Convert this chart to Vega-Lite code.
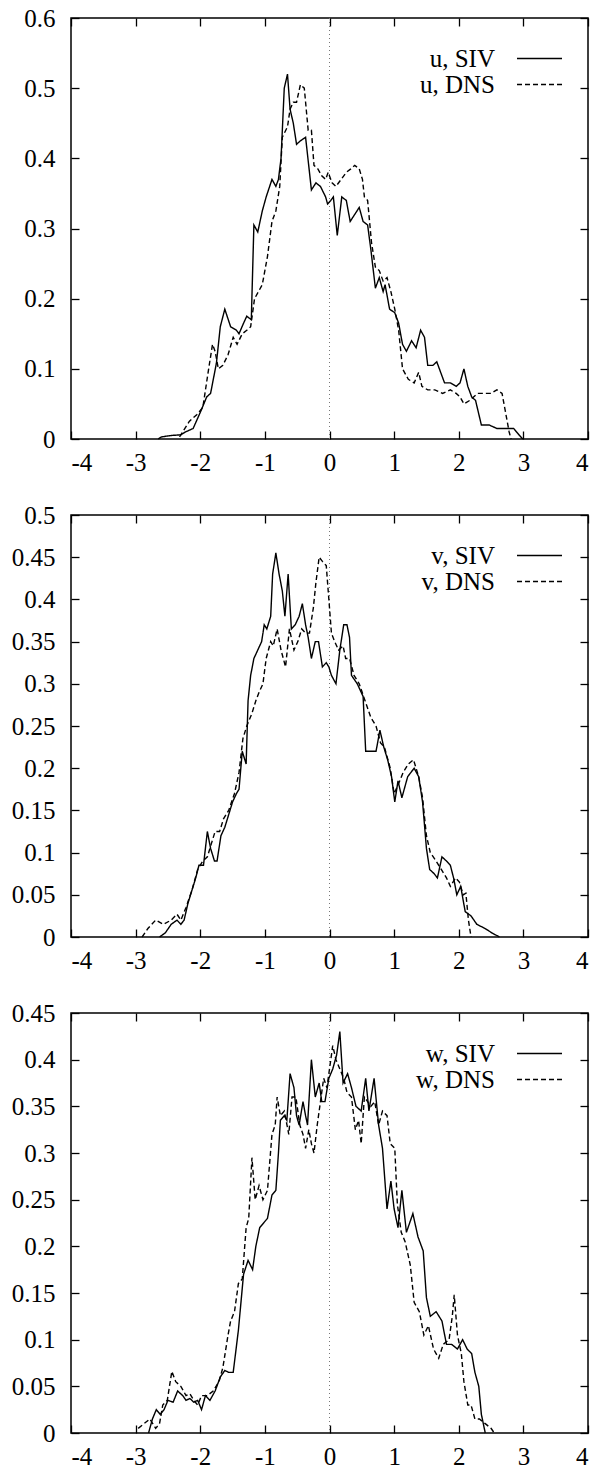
{
"$schema": "https://vega.github.io/schema/vega-lite/v6.json",
"background": "white",
"padding": {"left": 10, "top": 5, "right": 5, "bottom": 0},
"config": {
  "font": "Liberation Serif",
  "view": {"stroke": "black", "strokeWidth": 1.5},
  "axis": {"labelFont": "Liberation Serif", "labelFontSize": 25, "labelColor": "black", "domain": false, "grid": false, "ticks": true, "tickColor": "black", "tickSize": -8, "tickWidth": 1.3, "title": null},
  "legend": {"orient": "none", "legendX": 456, "legendY": 28, "symbolType": "M-2.5,0H2.5", "symbolSize": 324, "symbolStrokeWidth": 1.4, "labelFont": "Liberation Serif", "labelFontSize": 25, "labelColor": "black", "labelAlign": "right", "labelOffset": -57, "title": null, "rowPadding": -1, "padding": 0},
  "concat": {"spacing": 26}
},
"datasets": {
"u": [
{"s":"u, SIV","x":-2.65,"y":0},{"s":"u, SIV","x":-2.6,"y":0.003},{"s":"u, SIV","x":-2.45,"y":0.005},{"s":"u, SIV","x":-2.3,"y":0.006},{"s":"u, SIV","x":-2.23,"y":0.01},{"s":"u, SIV","x":-2.11,"y":0.015},{"s":"u, SIV","x":-1.99,"y":0.04},{"s":"u, SIV","x":-1.9,"y":0.06},{"s":"u, SIV","x":-1.84,"y":0.065},{"s":"u, SIV","x":-1.75,"y":0.108},{"s":"u, SIV","x":-1.69,"y":0.16},{"s":"u, SIV","x":-1.62,"y":0.185},{"s":"u, SIV","x":-1.53,"y":0.16},{"s":"u, SIV","x":-1.44,"y":0.155},{"s":"u, SIV","x":-1.4,"y":0.15},{"s":"u, SIV","x":-1.33,"y":0.165},{"s":"u, SIV","x":-1.28,"y":0.175},{"s":"u, SIV","x":-1.21,"y":0.17},{"s":"u, SIV","x":-1.17,"y":0.305},{"s":"u, SIV","x":-1.11,"y":0.295},{"s":"u, SIV","x":-1.04,"y":0.325},{"s":"u, SIV","x":-0.98,"y":0.345},{"s":"u, SIV","x":-0.89,"y":0.37},{"s":"u, SIV","x":-0.83,"y":0.36},{"s":"u, SIV","x":-0.79,"y":0.37},{"s":"u, SIV","x":-0.75,"y":0.4},{"s":"u, SIV","x":-0.7,"y":0.5},{"s":"u, SIV","x":-0.65,"y":0.52},{"s":"u, SIV","x":-0.61,"y":0.47},{"s":"u, SIV","x":-0.56,"y":0.45},{"s":"u, SIV","x":-0.51,"y":0.42},{"s":"u, SIV","x":-0.45,"y":0.425},{"s":"u, SIV","x":-0.37,"y":0.43},{"s":"u, SIV","x":-0.28,"y":0.355},{"s":"u, SIV","x":-0.21,"y":0.365},{"s":"u, SIV","x":-0.14,"y":0.36},{"s":"u, SIV","x":-0.06,"y":0.345},{"s":"u, SIV","x":-0.03,"y":0.335},{"s":"u, SIV","x":0.02,"y":0.34},{"s":"u, SIV","x":0.06,"y":0.345},{"s":"u, SIV","x":0.12,"y":0.29},{"s":"u, SIV","x":0.19,"y":0.345},{"s":"u, SIV","x":0.26,"y":0.34},{"s":"u, SIV","x":0.32,"y":0.31},{"s":"u, SIV","x":0.39,"y":0.32},{"s":"u, SIV","x":0.46,"y":0.33},{"s":"u, SIV","x":0.52,"y":0.31},{"s":"u, SIV","x":0.59,"y":0.305},{"s":"u, SIV","x":0.64,"y":0.27},{"s":"u, SIV","x":0.71,"y":0.215},{"s":"u, SIV","x":0.77,"y":0.23},{"s":"u, SIV","x":0.83,"y":0.21},{"s":"u, SIV","x":0.86,"y":0.22},{"s":"u, SIV","x":0.93,"y":0.185},{"s":"u, SIV","x":1.01,"y":0.18},{"s":"u, SIV","x":1.07,"y":0.165},{"s":"u, SIV","x":1.13,"y":0.135},{"s":"u, SIV","x":1.19,"y":0.125},{"s":"u, SIV","x":1.27,"y":0.14},{"s":"u, SIV","x":1.34,"y":0.13},{"s":"u, SIV","x":1.41,"y":0.155},{"s":"u, SIV","x":1.47,"y":0.145},{"s":"u, SIV","x":1.52,"y":0.105},{"s":"u, SIV","x":1.6,"y":0.105},{"s":"u, SIV","x":1.66,"y":0.11},{"s":"u, SIV","x":1.78,"y":0.08},{"s":"u, SIV","x":1.87,"y":0.08},{"s":"u, SIV","x":1.96,"y":0.075},{"s":"u, SIV","x":2.02,"y":0.08},{"s":"u, SIV","x":2.08,"y":0.1},{"s":"u, SIV","x":2.14,"y":0.075},{"s":"u, SIV","x":2.2,"y":0.06},{"s":"u, SIV","x":2.26,"y":0.055},{"s":"u, SIV","x":2.35,"y":0.02},{"s":"u, SIV","x":2.47,"y":0.02},{"s":"u, SIV","x":2.59,"y":0.015},{"s":"u, SIV","x":2.7,"y":0.015},{"s":"u, SIV","x":2.85,"y":0.015},{"s":"u, SIV","x":2.94,"y":0.005},{"s":"u, SIV","x":2.99,"y":0},
{"s":"u, DNS","x":-2.32,"y":0.003},{"s":"u, DNS","x":-2.17,"y":0.025},{"s":"u, DNS","x":-2.05,"y":0.035},{"s":"u, DNS","x":-1.96,"y":0.045},{"s":"u, DNS","x":-1.87,"y":0.1},{"s":"u, DNS","x":-1.81,"y":0.135},{"s":"u, DNS","x":-1.77,"y":0.125},{"s":"u, DNS","x":-1.72,"y":0.1},{"s":"u, DNS","x":-1.65,"y":0.105},{"s":"u, DNS","x":-1.57,"y":0.12},{"s":"u, DNS","x":-1.49,"y":0.145},{"s":"u, DNS","x":-1.43,"y":0.135},{"s":"u, DNS","x":-1.35,"y":0.15},{"s":"u, DNS","x":-1.28,"y":0.155},{"s":"u, DNS","x":-1.22,"y":0.16},{"s":"u, DNS","x":-1.16,"y":0.2},{"s":"u, DNS","x":-1.1,"y":0.21},{"s":"u, DNS","x":-1.04,"y":0.22},{"s":"u, DNS","x":-0.96,"y":0.26},{"s":"u, DNS","x":-0.89,"y":0.31},{"s":"u, DNS","x":-0.83,"y":0.325},{"s":"u, DNS","x":-0.77,"y":0.36},{"s":"u, DNS","x":-0.73,"y":0.43},{"s":"u, DNS","x":-0.65,"y":0.445},{"s":"u, DNS","x":-0.61,"y":0.47},{"s":"u, DNS","x":-0.56,"y":0.48},{"s":"u, DNS","x":-0.51,"y":0.48},{"s":"u, DNS","x":-0.45,"y":0.505},{"s":"u, DNS","x":-0.39,"y":0.5},{"s":"u, DNS","x":-0.33,"y":0.44},{"s":"u, DNS","x":-0.28,"y":0.44},{"s":"u, DNS","x":-0.24,"y":0.39},{"s":"u, DNS","x":-0.18,"y":0.385},{"s":"u, DNS","x":-0.12,"y":0.375},{"s":"u, DNS","x":-0.06,"y":0.37},{"s":"u, DNS","x":-0.02,"y":0.38},{"s":"u, DNS","x":0.04,"y":0.365},{"s":"u, DNS","x":0.1,"y":0.36},{"s":"u, DNS","x":0.18,"y":0.37},{"s":"u, DNS","x":0.26,"y":0.38},{"s":"u, DNS","x":0.33,"y":0.385},{"s":"u, DNS","x":0.39,"y":0.39},{"s":"u, DNS","x":0.46,"y":0.385},{"s":"u, DNS","x":0.51,"y":0.37},{"s":"u, DNS","x":0.54,"y":0.345},{"s":"u, DNS","x":0.59,"y":0.34},{"s":"u, DNS","x":0.61,"y":0.32},{"s":"u, DNS","x":0.65,"y":0.28},{"s":"u, DNS","x":0.71,"y":0.245},{"s":"u, DNS","x":0.77,"y":0.24},{"s":"u, DNS","x":0.83,"y":0.225},{"s":"u, DNS","x":0.89,"y":0.23},{"s":"u, DNS","x":0.95,"y":0.21},{"s":"u, DNS","x":1.01,"y":0.185},{"s":"u, DNS","x":1.07,"y":0.155},{"s":"u, DNS","x":1.13,"y":0.1},{"s":"u, DNS","x":1.22,"y":0.085},{"s":"u, DNS","x":1.31,"y":0.08},{"s":"u, DNS","x":1.38,"y":0.095},{"s":"u, DNS","x":1.43,"y":0.075},{"s":"u, DNS","x":1.52,"y":0.07},{"s":"u, DNS","x":1.63,"y":0.07},{"s":"u, DNS","x":1.75,"y":0.065},{"s":"u, DNS","x":1.87,"y":0.07},{"s":"u, DNS","x":1.96,"y":0.065},{"s":"u, DNS","x":2.02,"y":0.06},{"s":"u, DNS","x":2.08,"y":0.05},{"s":"u, DNS","x":2.17,"y":0.055},{"s":"u, DNS","x":2.29,"y":0.065},{"s":"u, DNS","x":2.41,"y":0.065},{"s":"u, DNS","x":2.5,"y":0.065},{"s":"u, DNS","x":2.59,"y":0.07},{"s":"u, DNS","x":2.67,"y":0.065},{"s":"u, DNS","x":2.72,"y":0.04},{"s":"u, DNS","x":2.78,"y":0.01},{"s":"u, DNS","x":2.81,"y":0}
],
"v": [
{"s":"v, SIV","x":-2.63,"y":0},{"s":"v, SIV","x":-2.54,"y":0.005},{"s":"v, SIV","x":-2.45,"y":0.015},{"s":"v, SIV","x":-2.36,"y":0.02},{"s":"v, SIV","x":-2.3,"y":0.015},{"s":"v, SIV","x":-2.25,"y":0.02},{"s":"v, SIV","x":-2.19,"y":0.04},{"s":"v, SIV","x":-2.13,"y":0.055},{"s":"v, SIV","x":-2.07,"y":0.07},{"s":"v, SIV","x":-2.02,"y":0.085},{"s":"v, SIV","x":-1.95,"y":0.085},{"s":"v, SIV","x":-1.89,"y":0.125},{"s":"v, SIV","x":-1.84,"y":0.105},{"s":"v, SIV","x":-1.78,"y":0.09},{"s":"v, SIV","x":-1.74,"y":0.09},{"s":"v, SIV","x":-1.68,"y":0.12},{"s":"v, SIV","x":-1.62,"y":0.13},{"s":"v, SIV","x":-1.56,"y":0.145},{"s":"v, SIV","x":-1.5,"y":0.16},{"s":"v, SIV","x":-1.44,"y":0.17},{"s":"v, SIV","x":-1.4,"y":0.175},{"s":"v, SIV","x":-1.35,"y":0.22},{"s":"v, SIV","x":-1.29,"y":0.205},{"s":"v, SIV","x":-1.26,"y":0.28},{"s":"v, SIV","x":-1.22,"y":0.31},{"s":"v, SIV","x":-1.17,"y":0.33},{"s":"v, SIV","x":-1.11,"y":0.34},{"s":"v, SIV","x":-1.05,"y":0.35},{"s":"v, SIV","x":-1.01,"y":0.37},{"s":"v, SIV","x":-0.97,"y":0.365},{"s":"v, SIV","x":-0.91,"y":0.38},{"s":"v, SIV","x":-0.88,"y":0.43},{"s":"v, SIV","x":-0.83,"y":0.455},{"s":"v, SIV","x":-0.78,"y":0.43},{"s":"v, SIV","x":-0.73,"y":0.41},{"s":"v, SIV","x":-0.69,"y":0.38},{"s":"v, SIV","x":-0.64,"y":0.43},{"s":"v, SIV","x":-0.59,"y":0.365},{"s":"v, SIV","x":-0.53,"y":0.37},{"s":"v, SIV","x":-0.47,"y":0.38},{"s":"v, SIV","x":-0.42,"y":0.395},{"s":"v, SIV","x":-0.37,"y":0.37},{"s":"v, SIV","x":-0.33,"y":0.355},{"s":"v, SIV","x":-0.28,"y":0.33},{"s":"v, SIV","x":-0.22,"y":0.35},{"s":"v, SIV","x":-0.17,"y":0.35},{"s":"v, SIV","x":-0.11,"y":0.32},{"s":"v, SIV","x":-0.05,"y":0.325},{"s":"v, SIV","x":-0.01,"y":0.32},{"s":"v, SIV","x":0.03,"y":0.31},{"s":"v, SIV","x":0.1,"y":0.3},{"s":"v, SIV","x":0.16,"y":0.34},{"s":"v, SIV","x":0.22,"y":0.37},{"s":"v, SIV","x":0.27,"y":0.37},{"s":"v, SIV","x":0.31,"y":0.355},{"s":"v, SIV","x":0.34,"y":0.31},{"s":"v, SIV","x":0.43,"y":0.3},{"s":"v, SIV","x":0.52,"y":0.285},{"s":"v, SIV","x":0.56,"y":0.22},{"s":"v, SIV","x":0.64,"y":0.22},{"s":"v, SIV","x":0.72,"y":0.22},{"s":"v, SIV","x":0.78,"y":0.245},{"s":"v, SIV","x":0.84,"y":0.225},{"s":"v, SIV","x":0.9,"y":0.21},{"s":"v, SIV","x":0.96,"y":0.19},{"s":"v, SIV","x":1.01,"y":0.16},{"s":"v, SIV","x":1.06,"y":0.185},{"s":"v, SIV","x":1.12,"y":0.165},{"s":"v, SIV","x":1.21,"y":0.19},{"s":"v, SIV","x":1.31,"y":0.2},{"s":"v, SIV","x":1.38,"y":0.19},{"s":"v, SIV","x":1.44,"y":0.16},{"s":"v, SIV","x":1.5,"y":0.105},{"s":"v, SIV","x":1.55,"y":0.08},{"s":"v, SIV","x":1.62,"y":0.075},{"s":"v, SIV","x":1.67,"y":0.07},{"s":"v, SIV","x":1.74,"y":0.095},{"s":"v, SIV","x":1.81,"y":0.09},{"s":"v, SIV","x":1.87,"y":0.085},{"s":"v, SIV","x":1.92,"y":0.07},{"s":"v, SIV","x":1.97,"y":0.05},{"s":"v, SIV","x":2.03,"y":0.06},{"s":"v, SIV","x":2.1,"y":0.03},{"s":"v, SIV","x":2.19,"y":0.025},{"s":"v, SIV","x":2.28,"y":0.015},{"s":"v, SIV","x":2.41,"y":0.01},{"s":"v, SIV","x":2.51,"y":0.005},{"s":"v, SIV","x":2.63,"y":0},
{"s":"v, DNS","x":-2.9,"y":0},{"s":"v, DNS","x":-2.81,"y":0.01},{"s":"v, DNS","x":-2.69,"y":0.02},{"s":"v, DNS","x":-2.57,"y":0.015},{"s":"v, DNS","x":-2.45,"y":0.02},{"s":"v, DNS","x":-2.36,"y":0.027},{"s":"v, DNS","x":-2.3,"y":0.02},{"s":"v, DNS","x":-2.22,"y":0.035},{"s":"v, DNS","x":-2.13,"y":0.055},{"s":"v, DNS","x":-2.04,"y":0.08},{"s":"v, DNS","x":-1.96,"y":0.09},{"s":"v, DNS","x":-1.89,"y":0.095},{"s":"v, DNS","x":-1.83,"y":0.11},{"s":"v, DNS","x":-1.77,"y":0.125},{"s":"v, DNS","x":-1.7,"y":0.125},{"s":"v, DNS","x":-1.64,"y":0.14},{"s":"v, DNS","x":-1.56,"y":0.15},{"s":"v, DNS","x":-1.47,"y":0.17},{"s":"v, DNS","x":-1.4,"y":0.195},{"s":"v, DNS","x":-1.34,"y":0.235},{"s":"v, DNS","x":-1.28,"y":0.25},{"s":"v, DNS","x":-1.2,"y":0.265},{"s":"v, DNS","x":-1.14,"y":0.28},{"s":"v, DNS","x":-1.09,"y":0.29},{"s":"v, DNS","x":-1.03,"y":0.3},{"s":"v, DNS","x":-0.98,"y":0.33},{"s":"v, DNS","x":-0.91,"y":0.35},{"s":"v, DNS","x":-0.87,"y":0.345},{"s":"v, DNS","x":-0.81,"y":0.365},{"s":"v, DNS","x":-0.75,"y":0.34},{"s":"v, DNS","x":-0.68,"y":0.32},{"s":"v, DNS","x":-0.62,"y":0.365},{"s":"v, DNS","x":-0.55,"y":0.34},{"s":"v, DNS","x":-0.49,"y":0.35},{"s":"v, DNS","x":-0.43,"y":0.365},{"s":"v, DNS","x":-0.37,"y":0.36},{"s":"v, DNS","x":-0.31,"y":0.36},{"s":"v, DNS","x":-0.25,"y":0.39},{"s":"v, DNS","x":-0.21,"y":0.42},{"s":"v, DNS","x":-0.16,"y":0.45},{"s":"v, DNS","x":-0.11,"y":0.445},{"s":"v, DNS","x":-0.05,"y":0.44},{"s":"v, DNS","x":-0.01,"y":0.4},{"s":"v, DNS","x":0.03,"y":0.36},{"s":"v, DNS","x":0.08,"y":0.35},{"s":"v, DNS","x":0.14,"y":0.34},{"s":"v, DNS","x":0.21,"y":0.345},{"s":"v, DNS","x":0.25,"y":0.33},{"s":"v, DNS","x":0.31,"y":0.33},{"s":"v, DNS","x":0.38,"y":0.31},{"s":"v, DNS","x":0.46,"y":0.3},{"s":"v, DNS","x":0.55,"y":0.28},{"s":"v, DNS","x":0.64,"y":0.26},{"s":"v, DNS","x":0.72,"y":0.25},{"s":"v, DNS","x":0.79,"y":0.23},{"s":"v, DNS","x":0.85,"y":0.225},{"s":"v, DNS","x":0.94,"y":0.2},{"s":"v, DNS","x":1.0,"y":0.17},{"s":"v, DNS","x":1.06,"y":0.18},{"s":"v, DNS","x":1.14,"y":0.195},{"s":"v, DNS","x":1.22,"y":0.205},{"s":"v, DNS","x":1.3,"y":0.21},{"s":"v, DNS","x":1.38,"y":0.19},{"s":"v, DNS","x":1.44,"y":0.165},{"s":"v, DNS","x":1.5,"y":0.12},{"s":"v, DNS","x":1.56,"y":0.1},{"s":"v, DNS","x":1.65,"y":0.09},{"s":"v, DNS","x":1.73,"y":0.08},{"s":"v, DNS","x":1.81,"y":0.07},{"s":"v, DNS","x":1.87,"y":0.06},{"s":"v, DNS","x":1.95,"y":0.07},{"s":"v, DNS","x":2.01,"y":0.065},{"s":"v, DNS","x":2.07,"y":0.05},{"s":"v, DNS","x":2.11,"y":0.052},{"s":"v, DNS","x":2.15,"y":0.02},{"s":"v, DNS","x":2.19,"y":0}
],
"w": [
{"s":"w, SIV","x":-2.8,"y":0},{"s":"w, SIV","x":-2.74,"y":0.015},{"s":"w, SIV","x":-2.68,"y":0.025},{"s":"w, SIV","x":-2.62,"y":0.02},{"s":"w, SIV","x":-2.56,"y":0.025},{"s":"w, SIV","x":-2.5,"y":0.035},{"s":"w, SIV","x":-2.42,"y":0.033},{"s":"w, SIV","x":-2.35,"y":0.045},{"s":"w, SIV","x":-2.27,"y":0.04},{"s":"w, SIV","x":-2.22,"y":0.035},{"s":"w, SIV","x":-2.16,"y":0.037},{"s":"w, SIV","x":-2.1,"y":0.033},{"s":"w, SIV","x":-2.04,"y":0.035},{"s":"w, SIV","x":-1.98,"y":0.025},{"s":"w, SIV","x":-1.92,"y":0.04},{"s":"w, SIV","x":-1.85,"y":0.035},{"s":"w, SIV","x":-1.77,"y":0.045},{"s":"w, SIV","x":-1.69,"y":0.06},{"s":"w, SIV","x":-1.62,"y":0.067},{"s":"w, SIV","x":-1.56,"y":0.065},{"s":"w, SIV","x":-1.49,"y":0.065},{"s":"w, SIV","x":-1.41,"y":0.11},{"s":"w, SIV","x":-1.33,"y":0.17},{"s":"w, SIV","x":-1.26,"y":0.185},{"s":"w, SIV","x":-1.19,"y":0.175},{"s":"w, SIV","x":-1.14,"y":0.2},{"s":"w, SIV","x":-1.08,"y":0.22},{"s":"w, SIV","x":-1.02,"y":0.225},{"s":"w, SIV","x":-0.96,"y":0.23},{"s":"w, SIV","x":-0.89,"y":0.255},{"s":"w, SIV","x":-0.83,"y":0.26},{"s":"w, SIV","x":-0.79,"y":0.3},{"s":"w, SIV","x":-0.76,"y":0.335},{"s":"w, SIV","x":-0.7,"y":0.34},{"s":"w, SIV","x":-0.66,"y":0.335},{"s":"w, SIV","x":-0.61,"y":0.385},{"s":"w, SIV","x":-0.55,"y":0.37},{"s":"w, SIV","x":-0.51,"y":0.34},{"s":"w, SIV","x":-0.47,"y":0.33},{"s":"w, SIV","x":-0.41,"y":0.355},{"s":"w, SIV","x":-0.37,"y":0.34},{"s":"w, SIV","x":-0.34,"y":0.33},{"s":"w, SIV","x":-0.28,"y":0.4},{"s":"w, SIV","x":-0.22,"y":0.36},{"s":"w, SIV","x":-0.16,"y":0.375},{"s":"w, SIV","x":-0.12,"y":0.355},{"s":"w, SIV","x":-0.07,"y":0.355},{"s":"w, SIV","x":-0.01,"y":0.38},{"s":"w, SIV","x":0.05,"y":0.39},{"s":"w, SIV","x":0.11,"y":0.405},{"s":"w, SIV","x":0.16,"y":0.43},{"s":"w, SIV","x":0.21,"y":0.375},{"s":"w, SIV","x":0.28,"y":0.385},{"s":"w, SIV","x":0.34,"y":0.37},{"s":"w, SIV","x":0.41,"y":0.35},{"s":"w, SIV","x":0.49,"y":0.345},{"s":"w, SIV","x":0.56,"y":0.38},{"s":"w, SIV","x":0.61,"y":0.345},{"s":"w, SIV","x":0.69,"y":0.38},{"s":"w, SIV","x":0.76,"y":0.33},{"s":"w, SIV","x":0.82,"y":0.305},{"s":"w, SIV","x":0.89,"y":0.24},{"s":"w, SIV","x":0.95,"y":0.27},{"s":"w, SIV","x":1.0,"y":0.24},{"s":"w, SIV","x":1.06,"y":0.22},{"s":"w, SIV","x":1.12,"y":0.26},{"s":"w, SIV","x":1.19,"y":0.215},{"s":"w, SIV","x":1.29,"y":0.235},{"s":"w, SIV","x":1.37,"y":0.21},{"s":"w, SIV","x":1.45,"y":0.195},{"s":"w, SIV","x":1.5,"y":0.145},{"s":"w, SIV","x":1.56,"y":0.125},{"s":"w, SIV","x":1.65,"y":0.13},{"s":"w, SIV","x":1.74,"y":0.12},{"s":"w, SIV","x":1.81,"y":0.095},{"s":"w, SIV","x":1.89,"y":0.095},{"s":"w, SIV","x":1.98,"y":0.09},{"s":"w, SIV","x":2.06,"y":0.1},{"s":"w, SIV","x":2.13,"y":0.09},{"s":"w, SIV","x":2.2,"y":0.085},{"s":"w, SIV","x":2.25,"y":0.065},{"s":"w, SIV","x":2.31,"y":0.05},{"s":"w, SIV","x":2.35,"y":0.02},{"s":"w, SIV","x":2.41,"y":0},
{"s":"w, DNS","x":-2.96,"y":0.005},{"s":"w, DNS","x":-2.87,"y":0.01},{"s":"w, DNS","x":-2.78,"y":0.015},{"s":"w, DNS","x":-2.69,"y":0.005},{"s":"w, DNS","x":-2.63,"y":0.01},{"s":"w, DNS","x":-2.58,"y":0.03},{"s":"w, DNS","x":-2.51,"y":0.035},{"s":"w, DNS","x":-2.44,"y":0.066},{"s":"w, DNS","x":-2.38,"y":0.055},{"s":"w, DNS","x":-2.3,"y":0.05},{"s":"w, DNS","x":-2.22,"y":0.04},{"s":"w, DNS","x":-2.16,"y":0.042},{"s":"w, DNS","x":-2.1,"y":0.035},{"s":"w, DNS","x":-2.04,"y":0.03},{"s":"w, DNS","x":-1.98,"y":0.04},{"s":"w, DNS","x":-1.89,"y":0.04},{"s":"w, DNS","x":-1.8,"y":0.045},{"s":"w, DNS","x":-1.71,"y":0.055},{"s":"w, DNS","x":-1.65,"y":0.07},{"s":"w, DNS","x":-1.57,"y":0.105},{"s":"w, DNS","x":-1.53,"y":0.12},{"s":"w, DNS","x":-1.47,"y":0.13},{"s":"w, DNS","x":-1.41,"y":0.16},{"s":"w, DNS","x":-1.35,"y":0.165},{"s":"w, DNS","x":-1.29,"y":0.22},{"s":"w, DNS","x":-1.25,"y":0.23},{"s":"w, DNS","x":-1.2,"y":0.295},{"s":"w, DNS","x":-1.15,"y":0.25},{"s":"w, DNS","x":-1.09,"y":0.265},{"s":"w, DNS","x":-1.03,"y":0.25},{"s":"w, DNS","x":-0.96,"y":0.26},{"s":"w, DNS","x":-0.89,"y":0.32},{"s":"w, DNS","x":-0.84,"y":0.33},{"s":"w, DNS","x":-0.81,"y":0.36},{"s":"w, DNS","x":-0.76,"y":0.34},{"s":"w, DNS","x":-0.7,"y":0.345},{"s":"w, DNS","x":-0.63,"y":0.32},{"s":"w, DNS","x":-0.58,"y":0.36},{"s":"w, DNS","x":-0.52,"y":0.36},{"s":"w, DNS","x":-0.46,"y":0.33},{"s":"w, DNS","x":-0.41,"y":0.32},{"s":"w, DNS","x":-0.37,"y":0.305},{"s":"w, DNS","x":-0.32,"y":0.325},{"s":"w, DNS","x":-0.28,"y":0.31},{"s":"w, DNS","x":-0.24,"y":0.3},{"s":"w, DNS","x":-0.19,"y":0.33},{"s":"w, DNS","x":-0.13,"y":0.36},{"s":"w, DNS","x":-0.09,"y":0.38},{"s":"w, DNS","x":-0.04,"y":0.37},{"s":"w, DNS","x":0.0,"y":0.39},{"s":"w, DNS","x":0.05,"y":0.415},{"s":"w, DNS","x":0.1,"y":0.4},{"s":"w, DNS","x":0.16,"y":0.39},{"s":"w, DNS","x":0.22,"y":0.38},{"s":"w, DNS","x":0.27,"y":0.365},{"s":"w, DNS","x":0.34,"y":0.36},{"s":"w, DNS","x":0.4,"y":0.325},{"s":"w, DNS","x":0.45,"y":0.335},{"s":"w, DNS","x":0.49,"y":0.31},{"s":"w, DNS","x":0.54,"y":0.36},{"s":"w, DNS","x":0.59,"y":0.355},{"s":"w, DNS","x":0.64,"y":0.35},{"s":"w, DNS","x":0.7,"y":0.355},{"s":"w, DNS","x":0.76,"y":0.33},{"s":"w, DNS","x":0.82,"y":0.345},{"s":"w, DNS","x":0.89,"y":0.34},{"s":"w, DNS","x":0.94,"y":0.31},{"s":"w, DNS","x":1.01,"y":0.305},{"s":"w, DNS","x":1.05,"y":0.245},{"s":"w, DNS","x":1.11,"y":0.215},{"s":"w, DNS","x":1.17,"y":0.205},{"s":"w, DNS","x":1.25,"y":0.18},{"s":"w, DNS","x":1.31,"y":0.14},{"s":"w, DNS","x":1.39,"y":0.13},{"s":"w, DNS","x":1.46,"y":0.105},{"s":"w, DNS","x":1.53,"y":0.115},{"s":"w, DNS","x":1.61,"y":0.09},{"s":"w, DNS","x":1.69,"y":0.08},{"s":"w, DNS","x":1.76,"y":0.095},{"s":"w, DNS","x":1.85,"y":0.1},{"s":"w, DNS","x":1.9,"y":0.125},{"s":"w, DNS","x":1.93,"y":0.148},{"s":"w, DNS","x":1.98,"y":0.105},{"s":"w, DNS","x":2.04,"y":0.085},{"s":"w, DNS","x":2.08,"y":0.055},{"s":"w, DNS","x":2.14,"y":0.03},{"s":"w, DNS","x":2.19,"y":0.03},{"s":"w, DNS","x":2.25,"y":0.015},{"s":"w, DNS","x":2.32,"y":0.015},{"s":"w, DNS","x":2.41,"y":0.01},{"s":"w, DNS","x":2.5,"y":0.005},{"s":"w, DNS","x":2.55,"y":0}
]
},
"vconcat": [
{
  "width": 517, "height": 421,
  "data": {"name": "u"},
  "layer": [
    {"mark": {"type": "rule", "color": "#777777", "strokeDash": [1, 3], "strokeWidth": 1}, "encoding": {"x": {"datum": 0, "type": "quantitative", "axis": null}}},
    {"mark": {"type": "line", "color": "black", "strokeWidth": 1.4}, "encoding": {
      "x": {"field": "x", "type": "quantitative", "scale": {"domain": [-4, 4], "nice": false, "zero": false}, "axis": {"orient": "bottom", "values": [-4,-3,-2,-1,0,1,2,3,4], "labelExpr": "(datum.value < 0 ? '-' : '') + abs(datum.value)", "labelPadding": 19}},
      "y": {"field": "y", "type": "quantitative", "scale": {"domain": [0, 0.6], "nice": false}, "axis": {"orient": "left", "values": [0,0.1,0.2,0.3,0.4,0.5,0.6], "labelExpr": "'' + datum.value", "labelPadding": 24}},
      "strokeDash": {"field": "s", "type": "nominal", "scale": {"domain": ["u, SIV", "u, DNS"], "range": [[1, 0], [5, 3]]}, "legend": {}}
    }},
    {"mark": {"type": "line", "strokeOpacity": 0}, "encoding": {
      "x": {"field": "x", "type": "quantitative", "axis": {"orient": "top", "values": [-4,-3,-2,-1,0,1,2,3,4], "labels": false}},
      "y": {"field": "y", "type": "quantitative", "axis": {"orient": "right", "values": [0,0.1,0.2,0.3,0.4,0.5,0.6], "labels": false}},
      "detail": {"field": "s"}
    }}
  ],
  "resolve": {"axis": {"x": "independent", "y": "independent"}}
},
{
  "width": 517, "height": 422,
  "data": {"name": "v"},
  "layer": [
    {"mark": {"type": "rule", "color": "#777777", "strokeDash": [1, 3], "strokeWidth": 1}, "encoding": {"x": {"datum": 0, "type": "quantitative", "axis": null}}},
    {"mark": {"type": "line", "color": "black", "strokeWidth": 1.4}, "encoding": {
      "x": {"field": "x", "type": "quantitative", "scale": {"domain": [-4, 4], "nice": false, "zero": false}, "axis": {"orient": "bottom", "values": [-4,-3,-2,-1,0,1,2,3,4], "labelExpr": "(datum.value < 0 ? '-' : '') + abs(datum.value)", "labelPadding": 19}},
      "y": {"field": "y", "type": "quantitative", "scale": {"domain": [0, 0.5], "nice": false}, "axis": {"orient": "left", "values": [0,0.05,0.1,0.15,0.2,0.25,0.3,0.35,0.4,0.45,0.5], "labelExpr": "'' + datum.value", "labelPadding": 24}},
      "strokeDash": {"field": "s", "type": "nominal", "scale": {"domain": ["v, SIV", "v, DNS"], "range": [[1, 0], [5, 3]]}, "legend": {}}
    }},
    {"mark": {"type": "line", "strokeOpacity": 0}, "encoding": {
      "x": {"field": "x", "type": "quantitative", "axis": {"orient": "top", "values": [-4,-3,-2,-1,0,1,2,3,4], "labels": false}},
      "y": {"field": "y", "type": "quantitative", "axis": {"orient": "right", "values": [0,0.05,0.1,0.15,0.2,0.25,0.3,0.35,0.4,0.45,0.5], "labels": false}},
      "detail": {"field": "s"}
    }}
  ],
  "resolve": {"axis": {"x": "independent", "y": "independent"}}
},
{
  "width": 517, "height": 420,
  "data": {"name": "w"},
  "layer": [
    {"mark": {"type": "rule", "color": "#777777", "strokeDash": [1, 3], "strokeWidth": 1}, "encoding": {"x": {"datum": 0, "type": "quantitative", "axis": null}}},
    {"mark": {"type": "line", "color": "black", "strokeWidth": 1.4}, "encoding": {
      "x": {"field": "x", "type": "quantitative", "scale": {"domain": [-4, 4], "nice": false, "zero": false}, "axis": {"orient": "bottom", "values": [-4,-3,-2,-1,0,1,2,3,4], "labelExpr": "(datum.value < 0 ? '-' : '') + abs(datum.value)", "labelPadding": 19}},
      "y": {"field": "y", "type": "quantitative", "scale": {"domain": [0, 0.45], "nice": false}, "axis": {"orient": "left", "values": [0,0.05,0.1,0.15,0.2,0.25,0.3,0.35,0.4,0.45], "labelExpr": "'' + datum.value", "labelPadding": 24}},
      "strokeDash": {"field": "s", "type": "nominal", "scale": {"domain": ["w, SIV", "w, DNS"], "range": [[1, 0], [5, 3]]}, "legend": {}}
    }},
    {"mark": {"type": "line", "strokeOpacity": 0}, "encoding": {
      "x": {"field": "x", "type": "quantitative", "axis": {"orient": "top", "values": [-4,-3,-2,-1,0,1,2,3,4], "labels": false}},
      "y": {"field": "y", "type": "quantitative", "axis": {"orient": "right", "values": [0,0.05,0.1,0.15,0.2,0.25,0.3,0.35,0.4,0.45], "labels": false}},
      "detail": {"field": "s"}
    }}
  ],
  "resolve": {"axis": {"x": "independent", "y": "independent"}}
}
],
"resolve": {"scale": {"x": "independent", "y": "independent", "strokeDash": "independent"}, "legend": {"strokeDash": "independent"}}
}
